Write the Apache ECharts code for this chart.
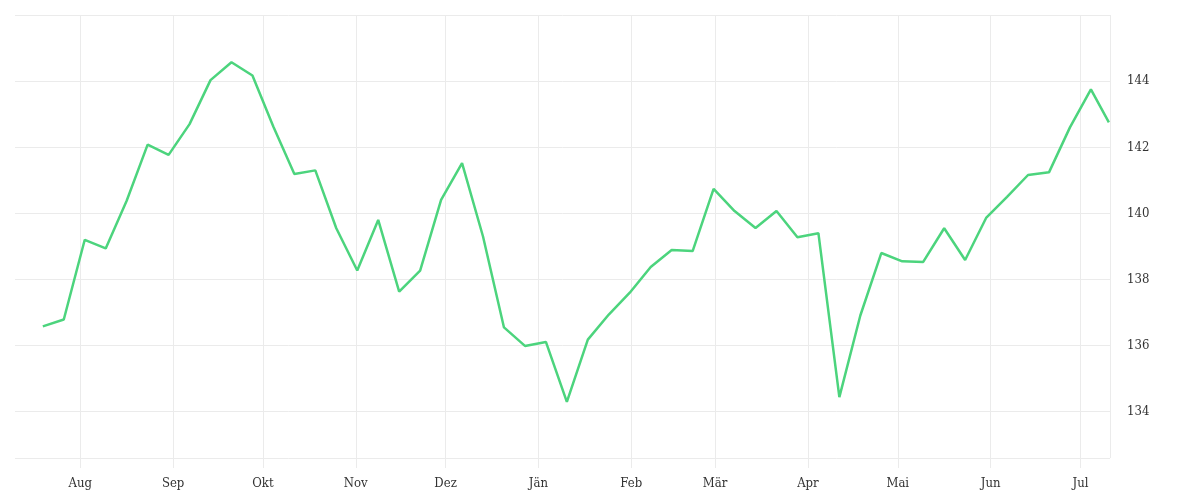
<!DOCTYPE html>
<html>
<head>
<meta charset="utf-8">
<script src="https://cdn.jsdelivr.net/npm/echarts@6/dist/echarts.min.js"></script>
<style>html,body{margin:0;padding:0;background:#fff}#c{width:1200px;height:500px}</style>
</head>
<body>
<div id="c"></div>
<script>
const dates = ['2022-07-19','2022-07-26','2022-08-02','2022-08-09','2022-08-16','2022-08-23','2022-08-30',
'2022-09-06','2022-09-13','2022-09-20','2022-09-27','2022-10-04','2022-10-11','2022-10-18','2022-10-25',
'2022-11-01','2022-11-08','2022-11-15','2022-11-22','2022-11-29','2022-12-06','2022-12-13','2022-12-20','2022-12-27',
'2023-01-03','2023-01-10','2023-01-17','2023-01-24','2023-01-31','2023-02-07','2023-02-14','2023-02-21','2023-02-28',
'2023-03-07','2023-03-14','2023-03-21','2023-03-28','2023-04-04','2023-04-11','2023-04-18','2023-04-25',
'2023-05-02','2023-05-09','2023-05-16','2023-05-23','2023-05-30','2023-06-06','2023-06-13','2023-06-20','2023-06-27',
'2023-07-04','2023-07-10'];
const values = [136.58,136.79,139.20,138.94,140.38,142.08,141.77,142.70,144.03,144.57,144.17,142.62,141.19,141.30,139.55,
138.27,139.80,137.63,138.27,140.41,141.52,139.30,136.55,135.99,136.11,134.30,136.18,136.94,137.60,138.38,138.89,138.86,
140.74,140.07,139.56,140.07,139.28,139.40,134.44,136.91,138.80,138.55,138.53,139.55,138.59,139.86,140.50,141.16,141.24,
142.60,143.75,142.75];
const monthLabels = ['Jän','Feb','Mär','Apr','Mai','Jun','Jul','Aug','Sep','Okt','Nov','Dez'];
const yTicks = [134,136,138,140,142,144];
const xRange = ['2022-07-10T05:00:00Z','2023-07-10T21:00:00Z'];
const yRange = [132.6,146];

const data = dates.map((d,i)=>[Date.parse(d+'T12:00:00Z'), values[i]]);
const font = '"DejaVu Serif Condensed", "DejaVu Serif", serif';
const chart = echarts.init(document.getElementById('c'), null, {renderer:'canvas'});
chart.setOption({
  animation:false,
  useUTC:true,
  grid:{left:15,right:90,top:15,bottom:42,containLabel:false},
  xAxis:{
    type:'time',
    min:Date.parse(xRange[0]),
    max:Date.parse(xRange[1]),
    splitNumber:10,
    axisLine:{show:false},
    axisTick:{show:true,length:10,lineStyle:{color:'#ebebeb'}},
    splitLine:{show:true,showMinLine:false,lineStyle:{color:'#ebebeb',width:1}},
    axisLabel:{
      color:'#333',fontFamily:font,fontSize:13,margin:19,
      showMinLabel:false,showMaxLabel:false,hideOverlap:false,
      formatter:function(v){const d=new Date(v);return (d.getUTCDate()===1&&d.getUTCHours()===0)?monthLabels[d.getUTCMonth()]:'';}
    }
  },
  yAxis:{
    type:'value',position:'right',
    min:yRange[0],max:yRange[1],splitNumber:7,
    axisLine:{show:false},axisTick:{show:false},
    splitLine:{show:true,lineStyle:{color:'#ebebeb',width:1}},
    axisLabel:{color:'#333',fontFamily:font,fontSize:13,margin:17,padding:[4,0,0,0],showMinLabel:false,showMaxLabel:false,
      formatter:function(v){return yTicks.indexOf(Math.round(v*100)/100)>=0?String(v):'';}}
  },
  series:[{type:'line',data:data,showSymbol:false,symbol:'none',
    lineStyle:{color:'#4cd47d',width:2.5},itemStyle:{color:'#4cd47d'}}]
});
</script>
</body>
</html>
